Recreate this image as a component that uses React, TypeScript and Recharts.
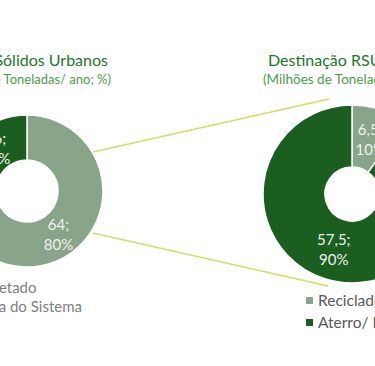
import React from "react";
import { PieChart, Pie, Cell } from "recharts";

// left donut: RSU gerado
const geracaoNames = ["Coletado", "Fora do Sistema"];
const geracaoValues = [64, 16];
// right donut: destinação do RSU coletado
const destinoNames = ["Reciclado", "Aterro/ Lixão"];
const destinoValues = [6.5, 57.5];

const LIGHT = "#88a489";
const DARK = "#1a5e20";
const LINK = "#c9e265";
const FONT = "Lato, 'Open Sans', sans-serif";

const geracaoData = geracaoNames.map((name, i) => ({ name, value: geracaoValues[i] }));
const destinoData = destinoNames.map((name, i) => ({ name, value: destinoValues[i] }));

const fmt = (v: number) => String(v).replace(".", ",");

const RADIAN = Math.PI / 180;
const renderLabel = (props: any) => {
  const { cx, cy, midAngle, innerRadius, outerRadius, value, percent } = props;
  const r = (innerRadius + outerRadius) / 2;
  const x = cx + r * Math.cos(-midAngle * RADIAN);
  const y = cy + r * Math.sin(-midAngle * RADIAN);
  return (
    <text
      x={x}
      y={y}
      fill="#eef3ee"
      textAnchor="middle"
      fontSize={15}
      fontFamily={FONT}
    >
      <tspan x={x} dy={-4}>{fmt(value)};</tspan>
      <tspan x={x} dy={20}>{Math.round(percent * 100)}%</tspan>
    </text>
  );
};

const left = { cx: 27, cy: 191, inner: 31, outer: 76 };
const right = { cx: 352, cy: 194, inner: 27, outer: 89 };

const App = () => {
  return (
    <div
      style={{
        position: "absolute",
        left: 0,
        top: 0,
        width: 375,
        height: 366,
        overflow: "hidden",
        background: "#fff",
        fontFamily: FONT,
      }}
    >
      <svg
        width={375}
        height={366}
        style={{ position: "absolute", left: 0, top: 0 }}
      >
        <line x1={93} y1={152} x2={329} y2={99} stroke={LINK} strokeWidth={1.5} />
        <line x1={93} y1={233} x2={328} y2={286} stroke={LINK} strokeWidth={1.5} />
      </svg>
      <div style={{ position: "absolute", left: 0, top: 0 }}>
        <PieChart width={375} height={366} margin={{ top: 0, right: 0, bottom: 0, left: 0 }}>
          <Pie
            data={geracaoData}
            dataKey="value"
            cx={left.cx}
            cy={left.cy}
            innerRadius={left.inner}
            outerRadius={left.outer}
            startAngle={90}
            endAngle={-270}
            stroke="#fff"
            strokeWidth={1.5}
            label={renderLabel}
            labelLine={false}
            isAnimationActive={false}
          >
            <Cell fill={LIGHT} />
            <Cell fill={DARK} />
          </Pie>
          <Pie
            data={destinoData}
            dataKey="value"
            cx={right.cx}
            cy={right.cy}
            innerRadius={right.inner}
            outerRadius={right.outer}
            startAngle={90}
            endAngle={-270}
            stroke="#fff"
            strokeWidth={1.5}
            label={renderLabel}
            labelLine={false}
            isAnimationActive={false}
          >
            <Cell fill={LIGHT} />
            <Cell fill={DARK} />
          </Pie>
        </PieChart>
      </div>

      {/* titles */}
      <div style={{ position: "absolute", right: 375 - 108, top: 50, whiteSpace: "nowrap", color: "#22762a", fontSize: 16 }}>
        Geração de Resíduos Sólidos Urbanos
      </div>
      <div style={{ position: "absolute", right: 375 - 111, top: 71, whiteSpace: "nowrap", color: "#4c9c4c", fontSize: 13 }}>
        (Milhões de Toneladas/ ano; %)
      </div>
      <div style={{ position: "absolute", left: 268, top: 50, whiteSpace: "nowrap", color: "#22762a", fontSize: 16 }}>
        Destinação RSU Coletado
      </div>
      <div style={{ position: "absolute", left: 263, top: 71, whiteSpace: "nowrap", color: "#4c9c4c", fontSize: 13.5 }}>
        (Milhões de Toneladas/ ano; %)
      </div>

      {/* legends */}
      {geracaoNames.map((n, i) => (
        <div
          key={n}
          style={{ position: "absolute", left: -35, top: 278 + i * 19, whiteSpace: "nowrap", color: "#808080", fontSize: 15, display: "flex", alignItems: "center" }}
        >
          <span style={{ width: 7, height: 7, background: i === 0 ? LIGHT : DARK, marginRight: 5 }} />
          {n}
        </div>
      ))}
      {destinoNames.map((n, i) => (
        <div
          key={n}
          style={{ position: "absolute", left: 306, top: 291 + i * 22, whiteSpace: "nowrap", color: "#595959", fontSize: 15.5, display: "flex", alignItems: "center" }}
        >
          <span style={{ width: 7, height: 7, background: i === 0 ? LIGHT : DARK, marginRight: 5 }} />
          {n}
        </div>
      ))}
    </div>
  );
};

export default App;
